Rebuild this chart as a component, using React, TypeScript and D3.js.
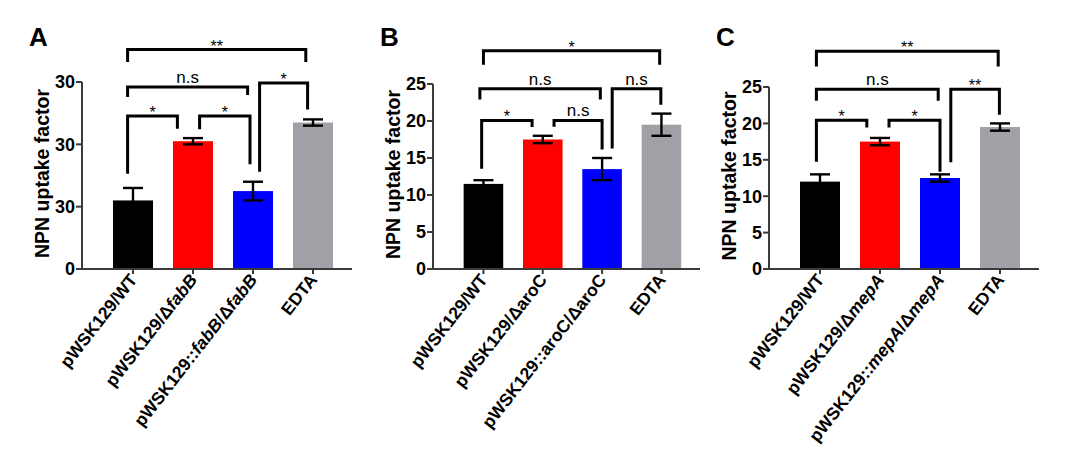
import * as d3 from 'd3';

const FONT = '"Liberation Sans", Arial, Helvetica, sans-serif';

// Bar fills shared by all three panels: WT, deletion, complemented, EDTA control
const barColors = ['#000000', '#ff0000', '#0000ff', '#a0a0a6'];

// ---- Panel A (fabB) ----
const categoriesA = ['pWSK129/WT', 'pWSK129/ΔfabB', 'pWSK129::fabB/ΔfabB', 'EDTA'];
const meansA = [11, 20.5, 12.5, 23.5];
const errorsA = [2, 0.5, 1.5, 0.5];
const tickValuesA = [0, 10, 20, 30];
const tickLabelsA = ['0', '30', '30', '30'];
// from/to are category positions, y/endFrom/endTo in data units
const bracketsA = [
  { from: -0.09, to: 2.88, y: 35.2, endFrom: 33.2, endTo: 33.2, label: '**' },
  { from: -0.09, to: 1.91, y: 29.2, endFrom: 27.6, endTo: 27.9, label: 'n.s' },
  { from: -0.09, to: 0.74, y: 24.55, endFrom: 15.3, endTo: 22.5, label: '*' },
  { from: 1.11, to: 1.95, y: 24.55, endFrom: 22.4, endTo: 16.8, label: '*' },
  { from: 2.11, to: 2.91, y: 29.85, endFrom: 15.6, endTo: 25.6, label: '*' },
];

// ---- Panel B (aroC) ----
const categoriesB = ['pWSK129/WT', 'pWSK129/ΔaroC', 'pWSK129::aroC/ΔaroC', 'EDTA'];
const meansB = [11.5, 17.5, 13.5, 19.5];
const errorsB = [0.5, 0.5, 1.5, 1.5];
const tickValuesB = [0, 5, 10, 15, 20, 25];
const tickLabelsB = ['0', '5', '10', '15', '20', '25'];
const bracketsB = [
  { from: 0, to: 2.97, y: 29.5, endFrom: 27.6, endTo: 27.6, label: '*' },
  { from: -0.06, to: 1.97, y: 24.36, endFrom: 22.9, endTo: 22.9, label: 'n.s' },
  { from: -0.03, to: 0.82, y: 20.08, endFrom: 13.55, endTo: 19.2, label: '*' },
  { from: 1.19, to: 2.0, y: 20.08, endFrom: 19.23, endTo: 16.16, label: 'n.s' },
  { from: 2.17, to: 2.99, y: 24.36, endFrom: 16.3, endTo: 22.2, label: 'n.s' },
];

// ---- Panel C (mepA) ----
const categoriesC = ['pWSK129/WT', 'pWSK129/ΔmepA', 'pWSK129::mepA/ΔmepA', 'EDTA'];
const meansC = [12, 17.5, 12.5, 19.5];
const errorsC = [1, 0.5, 0.5, 0.5];
const tickValuesC = [0, 5, 10, 15, 20, 25];
const tickLabelsC = ['0', '5', '10', '15', '20', '25'];
const bracketsC = [
  { from: -0.06, to: 2.97, y: 29.9, endFrom: 27.8, endTo: 27.8, label: '**' },
  { from: -0.06, to: 1.97, y: 24.7, endFrom: 23.1, endTo: 23.1, label: 'n.s' },
  { from: -0.06, to: 0.78, y: 20.44, endFrom: 14.73, endTo: 19.44, label: '*' },
  { from: 1.15, to: 2.0, y: 20.44, endFrom: 19.44, endTo: 13.36, label: '*' },
  { from: 2.18, to: 2.99, y: 24.7, endFrom: 14.65, endTo: 21.2, label: '**' },
];

type Bracket = { from: number; to: number; y: number; endFrom: number; endTo: number; label: string };

type PanelProps = {
  letter: string;
  categories: string[];
  gene: string;
  italicGene: boolean;
  means: number[];
  errors: number[];
  tickValues: number[];
  tickLabels: string[];
  brackets: Bracket[];
  left: number;
  right: number;
  top: number;
};

const BOTTOM = 269;

// Splits a strain label so the gene name can be set in italics
function labelParts(label: string, gene: string) {
  const parts: { text: string; italic: boolean }[] = [];
  label.split(gene).forEach((piece, i, arr) => {
    if (piece) parts.push({ text: piece, italic: false });
    if (i < arr.length - 1) parts.push({ text: gene, italic: true });
  });
  return parts;
}

function Panel(p: PanelProps) {
  const x = d3.scaleLinear().domain([-0.85, 3.65]).range([p.left, p.right]);
  const yMax = p.tickValues[p.tickValues.length - 1];
  const y = d3.scaleLinear().domain([0, yMax]).range([BOTTOM, p.top]);
  const barW = (x(1) - x(0)) * 0.667;
  const capW = 20;

  return (
    <g>
      <text x={p.left - 53} y={46} fontSize={26} fontWeight={700} fontFamily={FONT}>
        {p.letter}
      </text>

      {/* y axis title */}
      <text
        transform={`translate(${p.left - 33},${(BOTTOM + p.top) / 2 - 2}) rotate(-90)`}
        textAnchor="middle"
        fontSize={19.5}
        fontWeight={700}
        fontFamily={FONT}
      >
        NPN uptake factor
      </text>

      {/* bars */}
      {p.means.map((m, i) => (
        <rect
          key={`bar${i}`}
          x={x(i) - barW / 2}
          y={y(m)}
          width={barW}
          height={BOTTOM - y(m)}
          fill={barColors[i]}
        />
      ))}

      {/* error bars */}
      {p.means.map((m, i) => {
        const hi = y(m + p.errors[i]);
        const lo = y(m - p.errors[i]);
        const cx = x(i);
        return (
          <g key={`err${i}`} stroke="#000" strokeWidth={2.4} fill="none">
            <line x1={cx} x2={cx} y1={hi} y2={lo} />
            <line x1={cx - capW / 2} x2={cx + capW / 2} y1={hi} y2={hi} />
            <line x1={cx - capW / 2} x2={cx + capW / 2} y1={lo} y2={lo} />
          </g>
        );
      })}

      {/* axes */}
      <g stroke="#3a3a3a" strokeWidth={2} fill="none">
        <line x1={p.left} x2={p.left} y1={p.top} y2={BOTTOM} />
        <line x1={p.left} x2={p.right} y1={BOTTOM} y2={BOTTOM} />
        {p.tickValues.map((t) => (
          <line key={`yt${t}`} x1={p.left - 6} x2={p.left} y1={y(t)} y2={y(t)} />
        ))}
        {p.categories.map((_, i) => (
          <line key={`xt${i}`} x1={x(i)} x2={x(i)} y1={BOTTOM} y2={BOTTOM + 5} />
        ))}
      </g>

      {p.tickValues.map((t, i) => (
        <text
          key={`yl${t}`}
          x={p.left - 7}
          y={y(t)}
          dy="0.36em"
          textAnchor="end"
          fontSize={18}
          fontWeight={700}
          fontFamily={FONT}
        >
          {p.tickLabels[i]}
        </text>
      ))}

      {p.categories.map((c, i) => (
        <text
          key={`xl${i}`}
          transform={`translate(${x(i) + 5},${BOTTOM + 11}) rotate(-52)`}
          textAnchor="end"
          fontSize={17.5}
          fontWeight={700}
          fontFamily={FONT}
        >
          {labelParts(c, p.gene).map((part, k) => (
            <tspan key={k} fontStyle={part.italic && p.italicGene ? 'italic' : 'normal'}>
              {part.text}
            </tspan>
          ))}
        </text>
      ))}

      {/* significance brackets */}
      {p.brackets.map((b, i) => {
        const x1 = x(b.from);
        const x2 = x(b.to);
        const path = d3.path();
        path.moveTo(x1, y(b.endFrom));
        path.lineTo(x1, y(b.y));
        path.lineTo(x2, y(b.y));
        path.lineTo(x2, y(b.endTo));
        const isStar = b.label.startsWith('*');
        return (
          <g key={`br${i}`}>
            <path d={path.toString()} stroke="#000" strokeWidth={3} fill="none" />
            <text
              x={(x1 + x2) / 2}
              y={y(b.y) + (isStar ? 2 : -4)}
              textAnchor="middle"
              fontSize={isStar ? 16 : 17}
              fontFamily={FONT}
            >
              {b.label}
            </text>
          </g>
        );
      })}
    </g>
  );
}

export default function App() {
  return (
    <svg
      width={1066}
      height={454}
      style={{ position: 'absolute', left: 0, top: 0, background: '#fff' }}
    >
      <rect width={1066} height={454} fill="#fff" />
      <Panel
        letter="A"
        categories={categoriesA}
        gene="fabB"
        italicGene
        means={meansA}
        errors={errorsA}
        tickValues={tickValuesA}
        tickLabels={tickLabelsA}
        brackets={bracketsA}
        left={82}
        right={352}
        top={82}
      />
      <Panel
        letter="B"
        categories={categoriesB}
        gene="aroC"
        italicGene={false}
        means={meansB}
        errors={errorsB}
        tickValues={tickValuesB}
        tickLabels={tickLabelsB}
        brackets={bracketsB}
        left={433}
        right={700}
        top={84}
      />
      <Panel
        letter="C"
        categories={categoriesC}
        gene="mepA"
        italicGene
        means={meansC}
        errors={errorsC}
        tickValues={tickValuesC}
        tickLabels={tickLabelsC}
        brackets={bracketsC}
        left={769}
        right={1039}
        top={87}
      />
    </svg>
  );
}
